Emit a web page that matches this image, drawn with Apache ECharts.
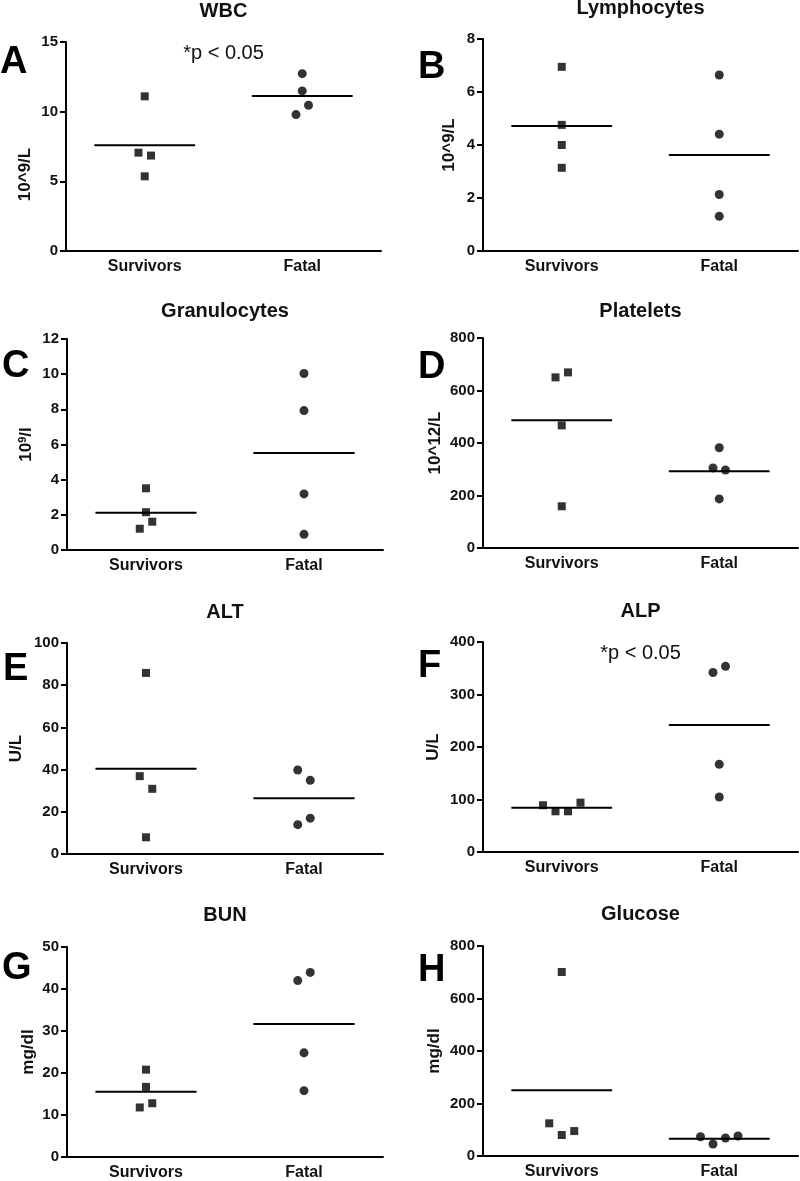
<!DOCTYPE html>
<html>
<head>
<meta charset="utf-8">
<script src="https://cdn.jsdelivr.net/npm/echarts@6/dist/echarts.min.js"></script>
<style>
html, body { margin: 0; padding: 0; background: #fff; }
#main { width: 800px; height: 1181px; }
</style>
</head>
<body>
<div id="main"></div>
<script>
var groups = ['Survivors', 'Fatal'];

// values
var wbcSurv = [11.1, 7.06, 6.85, 5.36];
var wbcFatal = [12.73, 11.49, 10.46, 9.79];
var lymSurv = [6.95, 4.76, 4.0, 3.14];
var lymFatal = [6.64, 4.41, 2.13, 1.31];
var graSurv = [3.51, 2.15, 1.61, 1.21];
var graFatal = [10.04, 7.93, 3.19, 0.89];
var pltSurv = [650, 669, 467, 159];
var pltFatal = [382, 305, 297, 187];
var altSurv = [85.8, 36.9, 30.9, 7.9];
var altFatal = [39.8, 34.9, 17, 13.9];
var alpSurv = [89, 77.5, 77.5, 94];
var alpFatal = [342, 353.7, 167, 104.8];
var bunSurv = [20.8, 16.7, 12.8, 11.8];
var bunFatal = [43.95, 42, 24.8, 15.8];
var gluSurv = [701, 124.5, 80, 95];
var gluFatal = [73.5, 45.7, 68.6, 76];

// y tick labels
var wbcTicks = [0, 5, 10, 15];
var lymTicks = [0, 2, 4, 6, 8];
var graTicks = [0, 2, 4, 6, 8, 10, 12];
var pltTicks = [0, 200, 400, 600, 800];
var altTicks = [0, 20, 40, 60, 80, 100];
var alpTicks = [0, 100, 200, 300, 400];
var bunTicks = [0, 10, 20, 30, 40, 50];
var gluTicks = [0, 200, 400, 600, 800];

var FONT = '"Liberation Sans", Arial, sans-serif';
var SLOT = 12.5;

// layout: plot box, unit label gap, jitter slots for overlapping points
var panels = [
    {letter: 'A', title: 'WBC', unit: '10^9/L', ticks: wbcTicks, surv: wbcSurv, fatal: wbcFatal,
     sj: [0, -0.5, 0.5, 0], fj: [0, 0, 0.5, -0.5], p: true,
     box: [66, 42, 381, 251], gap: 32, shift: 28, lx: 0, ly: 63, ty: 11},
    {letter: 'B', title: 'Lymphocytes', unit: '10^9/L', ticks: lymTicks, surv: lymSurv, fatal: lymFatal,
     sj: [0, 0, 0, 0], fj: [0, 0, 0, 0],
     box: [483, 39, 798, 251], gap: 25, lx: 418, ly: 68, ty: 8},
    {letter: 'C', title: 'Granulocytes', unit: 'sup', ticks: graTicks, surv: graSurv, fatal: graFatal,
     sj: [0, 0, 0.5, -0.5], fj: [0, 0, 0, 0],
     box: [67, 339, 383, 550], gap: 31, lx: 2, ly: 367, ty: 311},
    {letter: 'D', title: 'Platelets', unit: '10^12/L', ticks: pltTicks, surv: pltSurv, fatal: pltFatal,
     sj: [-0.5, 0.5, 0, 0], fj: [0, -0.5, 0.5, 0],
     box: [483, 338, 798, 548], gap: 39, lx: 418, ly: 368, ty: 311},
    {letter: 'E', title: 'ALT', unit: 'U/L', ticks: altTicks, surv: altSurv, fatal: altFatal,
     sj: [0, -0.5, 0.5, 0], fj: [-0.5, 0.5, 0.5, -0.5],
     box: [67, 643, 383, 854], gap: 42, lx: 3, ly: 670, ty: 612},
    {letter: 'F', title: 'ALP', unit: 'U/L', ticks: alpTicks, surv: alpSurv, fatal: alpFatal,
     sj: [-1.5, -0.5, 0.5, 1.5], fj: [-0.5, 0.5, 0, 0], p: true,
     box: [483, 642, 798, 852], gap: 41, lx: 418, ly: 667, ty: 611},
    {letter: 'G', title: 'BUN', unit: 'mg/dl', ticks: bunTicks, surv: bunSurv, fatal: bunFatal,
     sj: [0, 0, 0.5, -0.5], fj: [0.5, -0.5, 0, 0],
     box: [67, 947, 383, 1157], gap: 30, lx: 2, ly: 969, ty: 915},
    {letter: 'H', title: 'Glucose', unit: 'mg/dl', ticks: gluTicks, surv: gluSurv, fatal: gluFatal,
     sj: [0, -1, 0, 1], fj: [-1.5, -0.5, 0.5, 1.5],
     box: [483, 946, 798, 1156], gap: 40, lx: 418, ly: 971, ty: 914}
];

function mean(arr) {
    var s = 0;
    for (var i = 0; i < arr.length; i++) s += arr[i];
    return s / arr.length;
}

function points(vals, jit, cat) {
    return vals.map(function (v, k) {
        return {value: [cat, v], symbolOffset: [jit[k] * SLOT, 0]};
    });
}

var option = {
    backgroundColor: '#fff',
    animation: false,
    grid: [], xAxis: [], yAxis: [], series: [], graphic: []
};

panels.forEach(function (p, i) {
    var b = p.box;
    var t = p.ticks;
    option.grid.push({
        left: b[0], top: b[1], width: b[2] - b[0], height: b[3] - b[1],
        outerBoundsMode: 'none'
    });
    option.xAxis.push({
        type: 'category', gridIndex: i, data: groups,
        axisLine: {lineStyle: {color: '#000', width: 2}},
        axisTick: {alignWithLabel: true, length: 5, lineStyle: {color: '#000', width: 2}},
        axisLabel: {color: '#111', fontFamily: FONT, fontWeight: 'bold', fontSize: 16, margin: 8},
        splitLine: {show: false}
    });
    var nameStyle = {color: '#111', fontFamily: FONT, fontWeight: 'bold', fontSize: 17};
    var name = p.unit;
    if (p.unit === 'sup') {
        name = '{b|10}{s|9}{b|/l}';
        nameStyle.rich = {
            b: {fontFamily: FONT, fontWeight: 'bold', fontSize: 17, color: '#111'},
            s: {fontFamily: FONT, fontWeight: 'bold', fontSize: 11, color: '#111', padding: [0, 0, 8, 0]}
        };
    }
    if (p.shift) nameStyle.padding = [0, p.shift * 2, 0, 0];
    option.yAxis.push({
        type: 'value', gridIndex: i,
        min: t[0], max: t[t.length - 1], interval: t[1] - t[0],
        name: name, nameLocation: 'middle', nameRotate: 90, nameGap: p.gap,
        nameTextStyle: nameStyle,
        axisLine: {show: true, lineStyle: {color: '#000', width: 2}},
        axisTick: {show: true, length: 6, lineStyle: {color: '#000', width: 2}},
        axisLabel: {color: '#111', fontFamily: FONT, fontWeight: 'bold', fontSize: 15, margin: 8},
        splitLine: {show: false}
    });
    option.series.push({
        type: 'custom', xAxisIndex: i, yAxisIndex: i, z: 2,
        data: [[0, mean(p.surv)], [1, mean(p.fatal)]],
        renderItem: function (params, api) {
            var c = api.coord([api.value(0), api.value(1)]);
            var half = api.size([1, 0])[0] * 0.32;
            return {
                type: 'line',
                shape: {x1: c[0] - half, y1: c[1], x2: c[0] + half, y2: c[1]},
                style: {stroke: '#000', lineWidth: 2}
            };
        }
    });
    option.series.push({
        type: 'scatter', xAxisIndex: i, yAxisIndex: i, z: 3,
        symbol: 'rect', symbolSize: 8, itemStyle: {color: '#000'},
        data: points(p.surv, p.sj, 0)
    });
    option.series.push({
        type: 'scatter', xAxisIndex: i, yAxisIndex: i, z: 3,
        symbol: 'circle', symbolSize: 9, itemStyle: {color: '#000'},
        data: points(p.fatal, p.fj, 1)
    });
    var cx = (b[0] + b[2]) / 2;
    option.graphic.push({
        type: 'text', x: cx, y: p.ty,
        style: {text: p.title, fill: '#111', font: 'bold 20px ' + FONT, align: 'center', verticalAlign: 'middle'}
    });
    option.graphic.push({
        type: 'text', x: p.lx, y: p.ly,
        style: {text: p.letter, fill: '#000', font: 'bold 38px ' + FONT, align: 'left', verticalAlign: 'middle'}
    });
    if (p.p) {
        option.graphic.push({
            type: 'text', x: cx, y: b[1] + 11,
            style: {text: '*p < 0.05', fill: '#111', font: '20px ' + FONT, align: 'center', verticalAlign: 'middle'}
        });
    }
});

var chart = echarts.init(document.getElementById('main'));
chart.setOption(option);
</script>
</body>
</html>
